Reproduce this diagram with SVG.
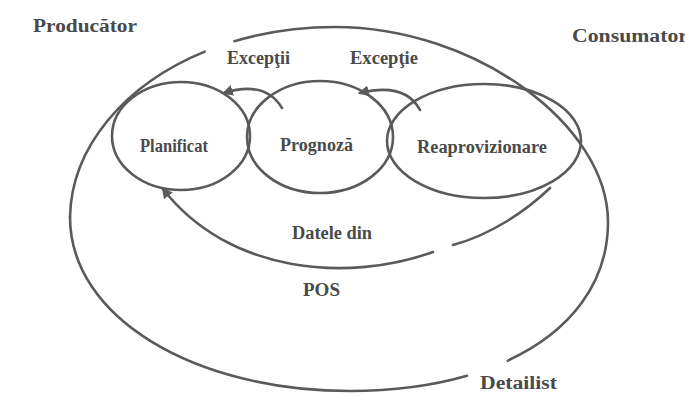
<svg xmlns="http://www.w3.org/2000/svg" width="685" height="396" viewBox="0 0 685 396">
<style>
.ln{fill:none;stroke:#5a5a5a;stroke-width:2.6;stroke-linecap:round}
.tx{font-family:"Liberation Serif","Times New Roman",serif;font-weight:bold;font-size:18px;fill:#4a4a4a}
</style>
<defs>
<marker id="ah" viewBox="0 0 10 10" refX="8" refY="5" markerWidth="11" markerHeight="11" markerUnits="userSpaceOnUse" orient="auto">
<path d="M0,0 L10,5 L0,10 z" fill="#5a5a5a"/>
</marker>
</defs>
<rect width="685" height="396" fill="#ffffff"/>
<text class="tx" x="33" y="32" textLength="104" lengthAdjust="spacingAndGlyphs">Producător</text>
<text class="tx" x="572" y="42" textLength="116" lengthAdjust="spacingAndGlyphs">Consumator</text>
<g id="detailist">
<path class="ln" d="M70,217 C71.36,147.64 123.8,84.75 204.7,51.6"/>
<path class="ln" d="M234.35,41.2 C265.1,32.06 299,27 335,27 C475,27 608,125 608,222 C608,282.6 570.9,331.3 507.8,360.6"/>
<path class="ln" d="M466.9,375.8 C432.7,385.7 393.4,391 350,391 C195,391 70,318 70,217"/>
<text class="tx" x="480" y="389" textLength="77" lengthAdjust="spacingAndGlyphs">Detailist</text>
</g>
<g id="planificat">
<ellipse class="ln" cx="181" cy="136" rx="69" ry="54"/>
<text class="tx" x="140" y="152" textLength="68" lengthAdjust="spacingAndGlyphs">Planificat</text>
</g>
<g id="prognoza">
<ellipse class="ln" cx="320" cy="137" rx="73" ry="56"/>
<text class="tx" x="280" y="151" textLength="73" lengthAdjust="spacingAndGlyphs">Prognoză</text>
</g>
<g id="reaprovizionare">
<ellipse class="ln" cx="484" cy="141" rx="97" ry="57"/>
<text class="tx" x="417" y="153" textLength="130" lengthAdjust="spacingAndGlyphs">Reaprovizionare</text>
</g>
<g id="connectors">
<path class="ln" d="M282,108 Q265,80 224,93" marker-end="url(#ah)"/>
<text class="tx" x="227" y="64" textLength="63" lengthAdjust="spacingAndGlyphs">Excepţii</text>
<path class="ln" d="M420,110 Q405,82 360,93" marker-end="url(#ah)"/>
<text class="tx" x="350" y="64" textLength="68" lengthAdjust="spacingAndGlyphs">Excepţie</text>
<path class="ln" d="M550,188 C525,212 490,235 453,245"/>
<path class="ln" d="M433,252 C350,282 230,275 163,189" marker-end="url(#ah)"/>
<text class="tx" x="292" y="239" textLength="80" lengthAdjust="spacingAndGlyphs">Datele din</text>
<text class="tx" x="303" y="296" textLength="37" lengthAdjust="spacingAndGlyphs">POS</text>
</g>
</svg>
